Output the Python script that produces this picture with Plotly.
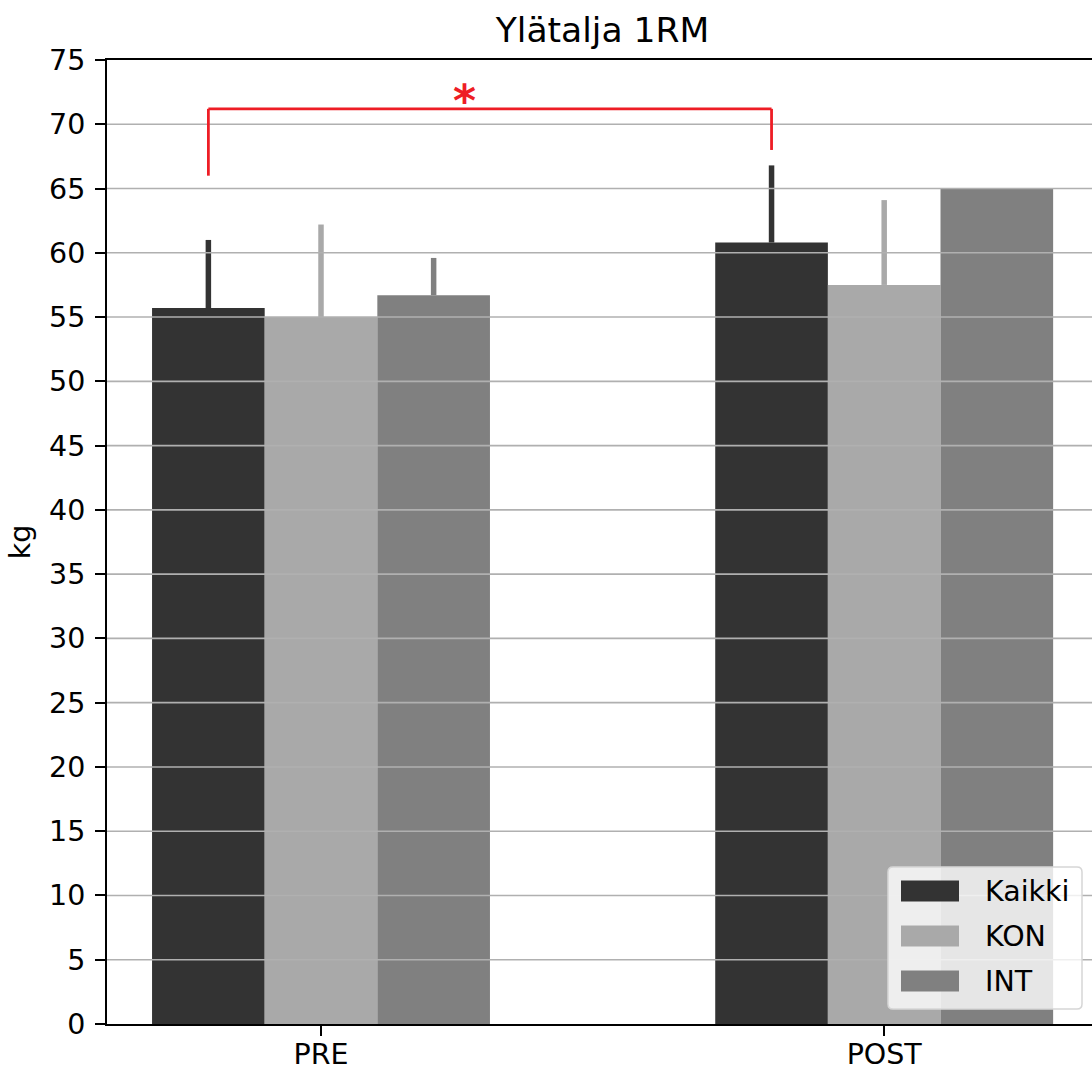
import plotly.graph_objects as go

# Data: 1RM lat pulldown (kg), mean and upper SD per group
phases = ["PRE", "POST"]
groups = ["Kaikki", "KON", "INT"]
means = {
    "Kaikki": [55.7, 60.8],
    "KON": [55.0, 57.5],
    "INT": [56.7, 65.0],
}
sds = {
    "Kaikki": [5.3, 6.0],
    "KON": [7.2, 6.6],
    "INT": [2.9, 0.0],
}
colors = {"Kaikki": "#333333", "KON": "#a9a9a9", "INT": "#808080"}

# Significance bracket between PRE and POST (Kaikki)
bracket_x = [-0.2, 0.8]
bracket_top = 71.2
bracket_ends = [66.0, 68.0]
star_x = 0.255
star_y = 72.4

yticks = list(range(0, 80, 5))
FONT = "DejaVu Sans"
RED = "#ee1d25"
TICK_SIZE = 28.5

x_pos = list(range(len(phases)))

fig = go.Figure()
for g in groups:
    fig.add_trace(go.Bar(
        x=x_pos,
        y=means[g],
        name=g,
        marker=dict(color=colors[g], line=dict(width=0)),
        error_y=dict(
            type="data", symmetric=False, array=sds[g],
            arrayminus=[0] * len(phases), color=colors[g],
            thickness=5.5, width=0,
        ),
        showlegend=False,
    ))

shapes = []
# horizontal grid drawn on top of the bars
for v in yticks[1:-1]:
    shapes.append(dict(type="line", xref="paper", yref="y", x0=0, x1=1,
                       y0=v, y1=v, line=dict(color="#b0b0b0", width=1.6),
                       layer="above"))

# significance bracket
bl = dict(color=RED, width=2.8)
shapes.append(dict(type="line", xref="x", yref="y", x0=bracket_x[0], x1=bracket_x[0],
                   y0=bracket_ends[0], y1=bracket_top, line=bl, layer="above"))
shapes.append(dict(type="line", xref="x", yref="y", x0=bracket_x[0], x1=bracket_x[1],
                   y0=bracket_top, y1=bracket_top, line=bl, layer="above"))
shapes.append(dict(type="line", xref="x", yref="y", x0=bracket_x[1], x1=bracket_x[1],
                   y0=bracket_ends[1], y1=bracket_top, line=bl, layer="above"))

# legend box (lower right), pixel positions converted to paper coords
L, T, W, H = 107, 60, 985, 964
def px(xp):
    return (xp - L) / W
def py(yp):
    return (T + H - yp) / H

bx0, bx1, by0, by1 = px(888), px(1082), py(1009), py(867)
rx, ry = 5 / W, 5 / H
path = (f"M{bx0+rx},{by0} L{bx1-rx},{by0} Q{bx1},{by0} {bx1},{by0+ry} "
        f"L{bx1},{by1-ry} Q{bx1},{by1} {bx1-rx},{by1} "
        f"L{bx0+rx},{by1} Q{bx0},{by1} {bx0},{by1-ry} "
        f"L{bx0},{by0+ry} Q{bx0},{by0} {bx0+rx},{by0} Z")
shapes.append(dict(type="path", xref="paper", yref="paper", path=path,
                   fillcolor="rgba(255,255,255,0.8)", line=dict(color="#d6d6d6", width=1.5),
                   layer="above"))

annotations = []
row_centers = [891, 936, 981]
for g, yc in zip(groups, row_centers):
    shapes.append(dict(type="rect", xref="paper", yref="paper",
                       x0=px(901), x1=px(959), y0=py(yc + 10.5), y1=py(yc - 10.5),
                       fillcolor=colors[g], line=dict(width=0), layer="above"))
    annotations.append(dict(xref="paper", yref="paper", x=px(983), y=py(yc),
                            text=g, showarrow=False, xanchor="left", yanchor="middle",
                            font=dict(family=FONT, size=TICK_SIZE, color="black")))

annotations.append(dict(xref="x", yref="y", x=star_x, y=star_y, text="<b>*</b>",
                        showarrow=False, xanchor="center", yanchor="middle", yshift=-7,
                        font=dict(family=FONT, size=44, color=RED)))

fig.update_layout(
    width=1092, height=1070,
    margin=dict(l=L, r=0, t=T, b=1070 - T - H, pad=0, autoexpand=False),
    paper_bgcolor="white", plot_bgcolor="white",
    barmode="group", bargap=0.4, bargroupgap=0,
    font=dict(family=FONT, size=TICK_SIZE, color="black"),
    title=dict(text="Ylätalja 1RM", x=602.5 / 1092, xref="container",
               xanchor="center", y=1 - 30 / 1070, yanchor="middle",
               font=dict(family=FONT, size=34.5, color="black")),
    shapes=shapes,
    annotations=annotations,
)
fig.update_xaxes(
    range=[-0.38, 1.369], tickmode="array", tickvals=x_pos, ticktext=phases,
    showgrid=False, zeroline=False, showline=True, linecolor="black", linewidth=2,
    mirror=True, ticks="outside", ticklen=10, tickwidth=2, tickcolor="black",
    ticklabelstandoff=-6, automargin=False,
    tickfont=dict(family=FONT, size=TICK_SIZE),
)
fig.update_yaxes(
    range=[0, 75], tickmode="array", tickvals=yticks,
    showgrid=False, zeroline=False, showline=True, linecolor="black", linewidth=2,
    ticks="outside", ticklen=10, tickwidth=2, tickcolor="black",
    ticklabelstandoff=4, automargin=False,
    tickfont=dict(family=FONT, size=TICK_SIZE),
    title=dict(text="kg", standoff=10, font=dict(family=FONT, size=TICK_SIZE)),
)

fig.write_html("out.html")
